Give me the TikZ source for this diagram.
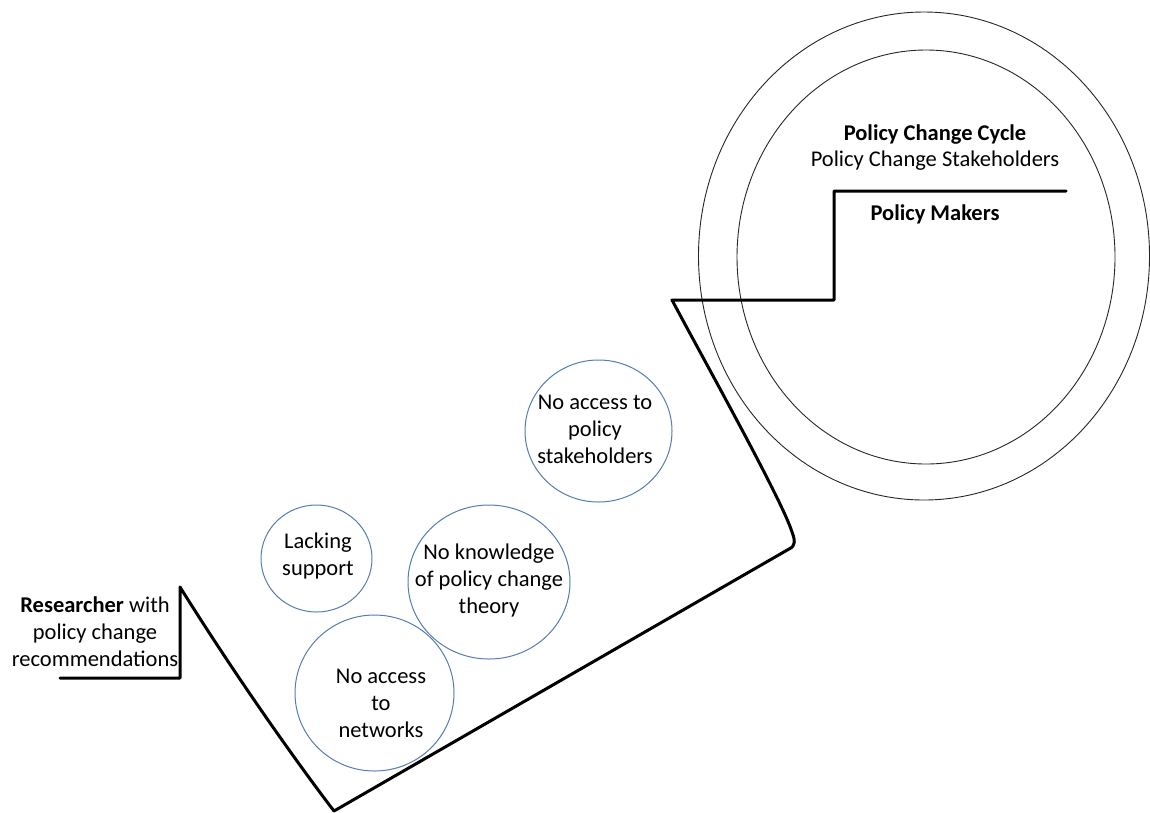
\documentclass[tikz,border=0pt]{standalone}
\usepackage{fontspec}
\setmainfont{Carlito}
\usetikzlibrary{shapes.geometric}
\definecolor{bubblue}{RGB}{84,125,178}
\tikzset{
  bub/.style={ellipse, draw=bubblue, line width=1pt, inner sep=0pt},
  ring/.style={ellipse, draw=black!85, line width=0.9pt, inner sep=0pt},
  txt/.style={align=center, font=\fontsize{22.5}{27}\selectfont, inner sep=0pt, text=black},
  thick line/.style={line width=3pt, line join=round, line cap=round}
}
\begin{document}
\begin{tikzpicture}[x=1pt,y=-1pt]
\useasboundingbox (0,0) rectangle (1150,812);
% rings
\node[ring, minimum width=451pt, minimum height=488pt] (outer) at (924,256) {};
\node[ring, minimum width=378pt, minimum height=414pt] (inner) at (926,257) {};
% thick path
\coordinate (r0) at (60,678);
\coordinate (r1) at (180,678);
\coordinate (r2) at (180,587);
\coordinate (bot) at (334,811);
\coordinate (c1) at (789,549);
\coordinate (c2) at (792,532);
\coordinate (s0) at (672,300);
\coordinate (s1) at (834,300);
\coordinate (s2) at (834,191);
\coordinate (s3) at (1066,191);
\draw[thick line] (r0) -- (r1) -- (r2) .. controls (235,675) and (295,760) .. (bot)
  -- (c1) .. controls (796,546) and (795,540) .. (c2)
  .. controls (782,500) and (705,362) .. (s0) -- (s1) -- (s2) -- (s3);
% texts in rings
\node[txt] (cycle) at (935,135) {\textbf{Policy Change Cycle}};
\node[txt] (stake) at (935,161) {Policy Change Stakeholders};
\node[txt] (makers) at (935,214) {\textbf{Policy Makers}};
% researcher
\node[txt] (res) at (95,632) {\textbf{Researcher} with\\policy change\\recommendations};
% bubbles
\node[bub, minimum width=147pt, minimum height=142pt] (b1) at (598.5,431) {};
\node[txt] (t1) at (595,429) {No access to\\policy\\stakeholders};
\node[bub, minimum width=111pt, minimum height=107pt] (b2) at (316.5,558.5) {};
\node[txt] (t2) at (318,556) {Lacking\\support};
\node[bub, minimum width=162pt, minimum height=154pt] (b3) at (489,582) {};
\node[txt] (t3) at (489,580) {No knowledge\\of policy change\\theory};
\node[bub, minimum width=159pt, minimum height=156pt] (b4) at (374.5,693) {};
\node[txt] (t4) at (381,703) {No access\\to\\networks};
\end{tikzpicture}
\end{document}
